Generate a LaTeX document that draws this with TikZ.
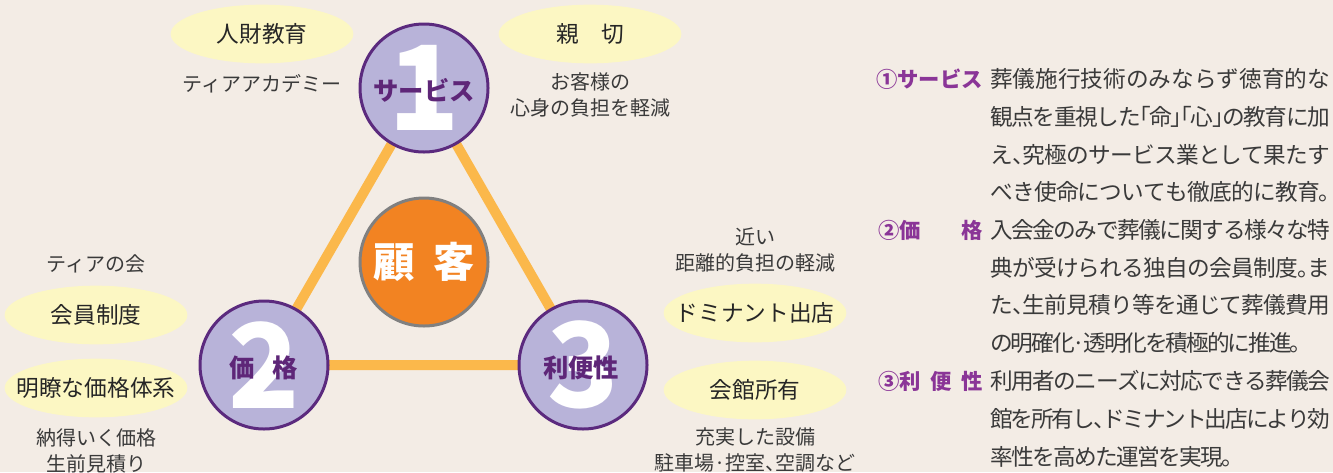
\documentclass[tikz,border=0pt]{standalone}
\usepackage{fontspec}
\setmainfont{Noto Sans CJK JP}[RawFeature=+halt]
\usetikzlibrary{shapes.geometric, backgrounds}
\definecolor{paper}{HTML}{F3ECE5}
\definecolor{ring}{HTML}{5B2A7E}
\definecolor{lavender}{HTML}{B8B3D9}
\definecolor{pillartext}{HTML}{5E2678}
\definecolor{headtext}{HTML}{8A3597}
\definecolor{custorange}{HTML}{F28322}
\definecolor{linkorange}{HTML}{FBB84B}
\definecolor{tagyellow}{HTML}{FCF7C3}
\definecolor{bodytext}{HTML}{3A3A3A}

% one justified line of the explanation
\makeatletter
\newcommand\jline[2][255pt]{\hbox to #1{\jl@step#2\jl@end}}
\def\jl@step#1#2\jl@end{#1\ifx\relax#2\relax\else\hskip 0pt plus 1fil minus 1fil\jl@step#2\jl@end\fi}
\makeatother

\begin{document}
\begin{tikzpicture}[x=0.75pt, y=-0.75pt,
  pillar/.style={circle, draw=ring, line width=2.25pt, fill=lavender, minimum size=96pt, inner sep=0pt},
  bignum/.style={text=white, inner sep=0pt, font=\fontsize{88}{88}\selectfont\bfseries},
  pname/.style={text=pillartext, inner sep=0pt, font=\fontsize{19}{19}\selectfont\bfseries},
  tag/.style={ellipse, fill=tagyellow, minimum width=137pt, minimum height=44pt, inner xsep=-12pt, inner ysep=0pt, text=black!85, font=\fontsize{17}{17}\selectfont},
  note/.style={align=center, inner sep=0pt, text=bodytext, font=\fontsize{15}{19.5}\selectfont},
  head/.style={anchor=north east, inner sep=0pt, text=headtext, font=\fontsize{16}{28.35}\selectfont\bfseries},
  body/.style={anchor=north west, align=left, inner sep=0pt, text=bodytext, font=\fontsize{17}{28.35}\selectfont},
  link/.style={line width=7.5pt, draw=linkorange}]
  \useasboundingbox (0,0) rectangle (1333,472);

  % three pillars and the customer
  \node[pillar] (p1) at (424,88) {};
  \node[pillar] (p2) at (264,365) {};
  \node[pillar] (p3) at (583,365) {};
  \node[circle, draw=black!50, line width=2.25pt, fill=custorange, minimum size=96pt, inner sep=0pt,
        text=white, font=\fontsize{31}{31}\selectfont\bfseries] (cust) at (424,262) {顧\hspace{0.45em}客};

  \node[bignum] (d1) at (p1) {1};
  \node[bignum] (d2) at (p2) {2};
  \node[bignum] (d3) at (p3) {3};
  \node[pname] (s1) at (424,90) {サービス};
  \node[pname] (s2) at (264,368) {価\hspace{0.7em}格};
  \node[pname] (s3) at (581,368) {利便性};

  \begin{scope}[on background layer]
    \fill[paper] (0,0) rectangle (1333,472);
    \draw[link] (p1.center) -- (p2.center) -- (p3.center) -- cycle;
  \end{scope}

  % keywords round the triangle
  \node[tag] (t1) at (262,34) {人財教育};
  \node[tag] (t2) at (590,34) {親\hspace{1em}切};
  \node[tag] (t3) at (96,315) {会員制度};
  \node[tag] (t4) at (96,388) {明瞭な価格体系};
  \node[tag] (t5) at (755,313) {ドミナント出店};
  \node[tag] (t6) at (755,390) {会館所有};

  \node[note] (m1) at (262,84) {ティアアカデミー};
  \node[note] (m2) at (590,95) {お客様の\\心身の負担を軽減};
  \node[note] (m3) at (96,264) {ティアの会};
  \node[note] (m4) at (96,451) {納得いく価格\\生前見積り};
  \node[note] (m5) at (755,250) {近い\\距離的負担の軽減};
  \node[note] (m6) at (755,450) {充実した設備\\駐車場·控室、空調など};

  % explanation on the right
  \node[head] (h1) at (983,69) {①サービス};
  \node[body] (b1) at (990,68) {\jline{葬儀施行技術のみならず徳育的な}\\\jline{観点を重視した「命」「心」の教育に加}\\\jline{え、究極のサービス業として果たす}\\\jline{べき使命についても徹底的に教育。}};
  \node[head] (h2) at (983,220) {②価\hspace{1.9em}格};
  \node[body] (b2) at (990,219) {\jline{入会金のみで葬儀に関する様々な特}\\\jline{典が受けられる独自の会員制度。ま}\\\jline{た、生前見積り等を通じて葬儀費用}\\\jline[233pt]{の明確化·透明化を積極的に推進。}};
  \node[head] (h3) at (983,371) {③利\hspace{0.45em}便\hspace{0.45em}性};
  \node[body] (b3) at (990,370) {\jline{利用者のニーズに対応できる葬儀会}\\\jline{館を所有し、ドミナント出店により効}\\\jline[182pt]{率性を高めた運営を実現。}};
\end{tikzpicture}
\end{document}
